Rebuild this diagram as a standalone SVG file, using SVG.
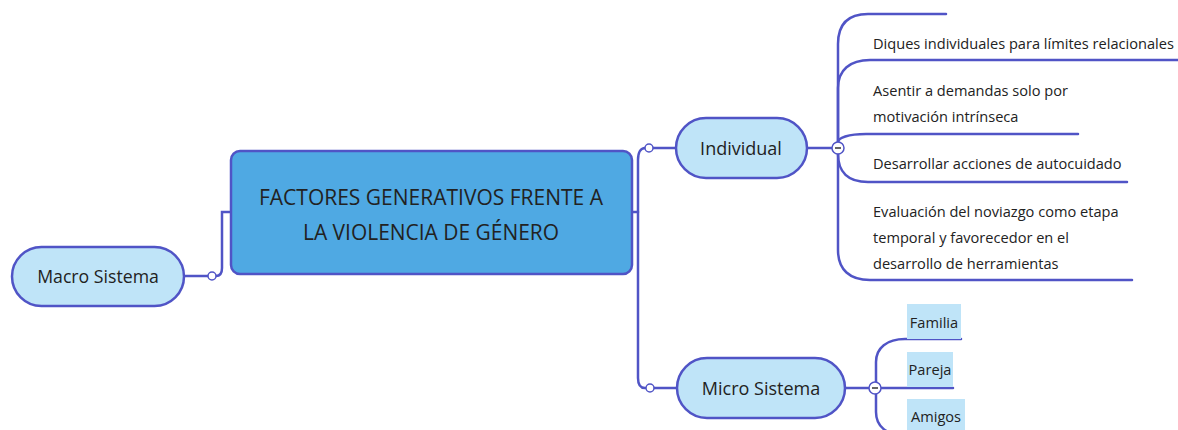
<svg xmlns="http://www.w3.org/2000/svg" width="1178" height="430" viewBox="0 0 1178 430">
<style>
.ln{fill:none;stroke:#5054c6;stroke-width:2.5;stroke-linecap:round}
.pill{fill:#bfe4f8;stroke:#5054c6;stroke-width:2.5}
.dot{fill:#fff;stroke:#5054c6;stroke-width:1.5}
.t{font-family:"Open Sans","Noto Sans",sans-serif;fill:#222}
.item{font-size:14.6px}
.hl{fill:#bfe4f8}
</style>
<rect width="1178" height="430" fill="#fff"/>
<g id="connectors">
<path class="ln" d="M184,276 H208 M216,276 C220,276 222,273 222,268 V212 H231"/>
<path class="ln" d="M632,212 H638 M638,212 V160 C638,152 641,148 645,148 M653,148 H676"/>
<path class="ln" d="M638,212 V378 C638,385 641,388 645,388 M654,388 H676"/>
<path class="ln" d="M806,148 H832"/>
<path class="ln" d="M838,142 V44 C838,24 848,14 868,14 H946"/>
<path class="ln" d="M838,142 V88 C838,70 850,60 870,60 H1178"/>
<path class="ln" d="M838,142 C838,138 848,134 866,134 H1078"/>
<path class="ln" d="M838,154 C838,172 848,182 868,182 H1127"/>
<path class="ln" d="M838,154 V250 C838,270 850,280 870,280 H1132"/>
<path class="ln" d="M845,388 H869"/>
<path class="ln" d="M876,382 V362 C876,348 887,339 905,339 H961"/>
<path class="ln" d="M881,388 H953"/>
<path class="ln" d="M876,394 V412 C876,427 887,435 905,435 H965"/>
<circle class="dot" cx="212" cy="276" r="4"/>
<circle class="dot" cx="649" cy="148" r="4"/>
<circle class="dot" cx="650" cy="388" r="4"/>
</g>
<g id="central">
<rect x="231" y="151" width="401" height="123" rx="9" fill="#4fa9e3" stroke="#5054c6" stroke-width="2.5"/>
<text class="t" x="431" y="205" font-size="21" text-anchor="middle" textLength="344" lengthAdjust="spacingAndGlyphs">FACTORES GENERATIVOS FRENTE A</text>
<text class="t" x="431" y="240" font-size="21" text-anchor="middle" textLength="256" lengthAdjust="spacingAndGlyphs">LA VIOLENCIA DE GÉNERO</text>
</g>
<g id="macro">
<rect class="pill" x="12" y="247" width="172" height="59" rx="29.5"/>
<text class="t" x="98" y="283" font-size="17.7" text-anchor="middle">Macro Sistema</text>
</g>
<g id="individual">
<rect class="pill" x="676" y="118" width="131" height="60" rx="30"/>
<text class="t" x="741" y="154.5" font-size="18" text-anchor="middle">Individual</text>
<circle cx="838" cy="148" r="6" fill="#fff" stroke="#5054c6" stroke-width="1.5"/>
<line x1="835" y1="148" x2="841" y2="148" stroke="#333" stroke-width="1.5"/>
</g>
<g id="ind-items">
<text class="t item" x="873" y="48.5">Diques individuales para límites relacionales</text>
<text class="t item" x="873" y="95.5">Asentir a demandas solo por</text>
<text class="t item" x="873" y="121.5">motivación intrínseca</text>
<text class="t item" x="873" y="168.5">Desarrollar acciones de autocuidado</text>
<text class="t item" x="873" y="216.5">Evaluación del noviazgo como etapa</text>
<text class="t item" x="873" y="242.5">temporal y favorecedor en el</text>
<text class="t item" x="873" y="268.5">desarrollo de herramientas</text>
</g>
<g id="micro">
<rect class="pill" x="677" y="358" width="168" height="60" rx="30"/>
<text class="t" x="761" y="394.5" font-size="18" text-anchor="middle">Micro Sistema</text>
<circle cx="875" cy="388" r="6" fill="#fff" stroke="#5054c6" stroke-width="1.5"/>
<line x1="872" y1="388" x2="878" y2="388" stroke="#333" stroke-width="1.5"/>
</g>
<g id="micro-items">
<rect class="hl" x="907" y="304" width="54" height="35"/>
<text class="t item" x="934" y="327.5" text-anchor="middle">Familia</text>
<rect class="hl" x="907" y="352" width="46" height="35"/>
<text class="t item" x="930" y="374.5" text-anchor="middle">Pareja</text>
<rect class="hl" x="907" y="399" width="58" height="35"/>
<text class="t item" x="936" y="421.5" text-anchor="middle">Amigos</text>
</g>
</svg>
